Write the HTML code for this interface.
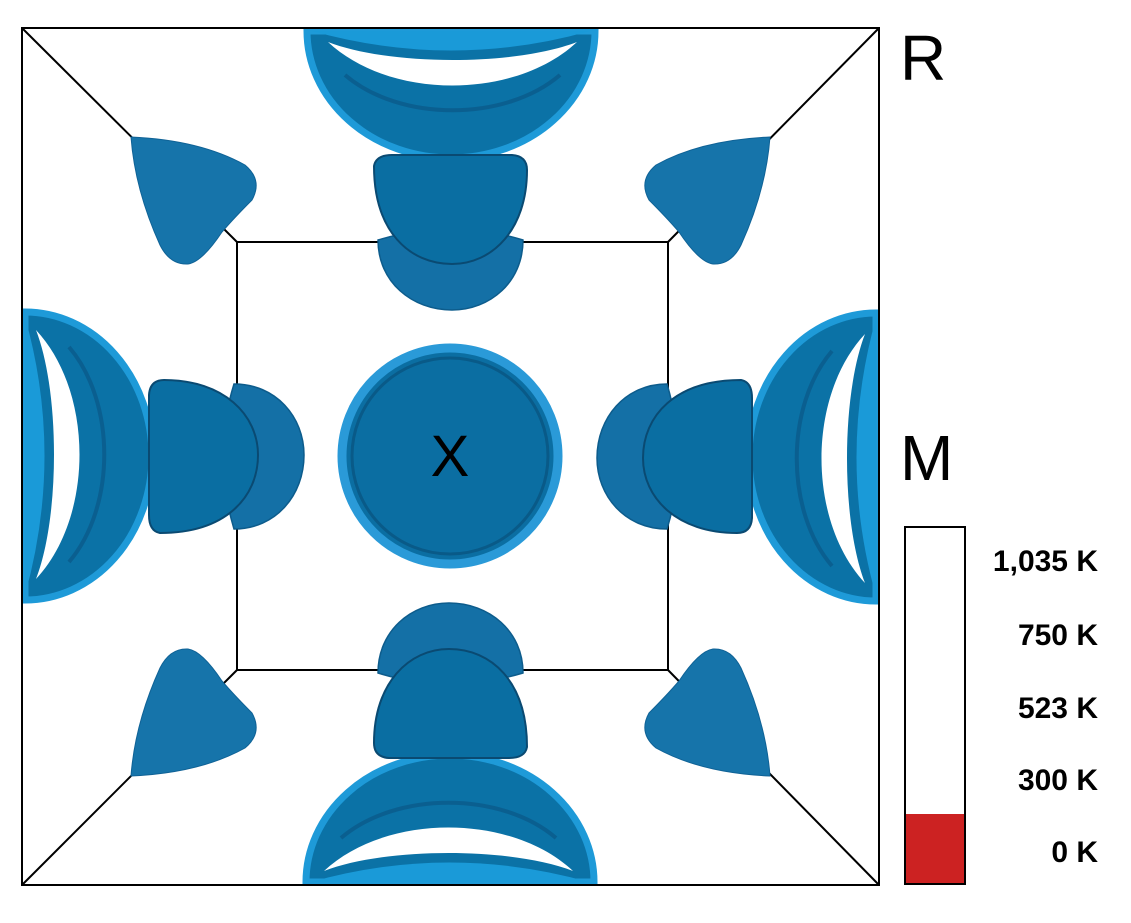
<!DOCTYPE html>
<html><head><style>
body{margin:0;background:#fff;width:1131px;height:918px;overflow:hidden;font-family:"Liberation Sans",sans-serif}
</style></head><body>
<svg width="1131" height="918" viewBox="0 0 1131 918" xmlns="http://www.w3.org/2000/svg">
<defs>
<g id="side">
  <path d="M307,31 A144,127 0 0 0 595,31 Z" fill="#0b72a6" stroke="#1e9ad8" stroke-width="7"/>
  <path d="M312,31 L590,31 Q452,70 312,31 Z" fill="#1a9ad8"/>
  <path d="M328,42 C390,100 515,100 577,42 C515,66 390,66 328,42 Z" fill="#fff"/>
  <path d="M345,75 C400,122 505,122 560,75" fill="none" stroke="#0a5f90" stroke-width="4"/>
  <path d="M378,240 Q452,218 523,240 C523,282 490,310 452,310 C412,310 378,282 378,240 Z" fill="#1470a6" stroke="#0d5c8c" stroke-width="1.5"/>
  <path d="M374,166 Q376,155 392,155 L512,155 Q527,156 527,170 C527,230 492,264 452,264 C410,264 374,232 374,166 Z" fill="#0a6ea2" stroke="#0a4a72" stroke-width="2"/>
</g>
<path id="corner" d="M131,137 Q200,140 245,165 Q263,180 252,200 Q234,218 222,232 Q202,262 188,264 Q170,265 160,245 Q135,190 131,137 Z" fill="#1674aa" stroke="#0f6296" stroke-width="1"/>
</defs>
<rect x="22" y="28" width="857" height="857" fill="none" stroke="#000" stroke-width="2"/>
<rect x="237" y="242" width="431" height="428" fill="none" stroke="#000" stroke-width="2"/>
<line x1="22" y1="28" x2="237" y2="242" stroke="#000" stroke-width="2"/>
<line x1="879" y1="28" x2="668" y2="242" stroke="#000" stroke-width="2"/>
<line x1="22" y1="885" x2="237" y2="670" stroke="#000" stroke-width="2"/>
<line x1="879" y1="885" x2="668" y2="670" stroke="#000" stroke-width="2"/>
<use href="#side"/>
<use href="#side" transform="rotate(90 450.5 456.5)"/>
<use href="#side" transform="rotate(180 450.5 456.5)"/>
<use href="#side" transform="rotate(270 450.5 456.5)"/>
<use href="#corner"/>
<use href="#corner" transform="translate(901 0) scale(-1 1)"/>
<use href="#corner" transform="translate(0 913) scale(1 -1)"/>
<use href="#corner" transform="translate(901 913) scale(-1 -1)"/>
<rect x="22" y="28" width="857" height="857" fill="none" stroke="#000" stroke-width="2"/>
<circle cx="450" cy="456" r="108" fill="#0b6ea2" stroke="#2a9ad8" stroke-width="9"/>
<circle cx="450" cy="456" r="98" fill="none" stroke="#095a88" stroke-width="3"/>
<text x="450" y="476" font-size="58" text-anchor="middle" font-family="Liberation Sans, sans-serif">X</text>
<text x="900" y="80" font-size="64" font-family="Liberation Sans, sans-serif">R</text>
<text x="900" y="480" font-size="64" font-family="Liberation Sans, sans-serif">M</text>
<rect x="905" y="527" width="60" height="357" fill="#fff" stroke="#000" stroke-width="2"/>
<rect x="906" y="814" width="58" height="69" fill="#cc2222"/>
<g font-size="30" font-weight="bold" text-anchor="end" font-family="Liberation Sans, sans-serif">
<text x="1098" y="571">1,035 K</text>
<text x="1098" y="645">750 K</text>
<text x="1098" y="718">523 K</text>
<text x="1098" y="790">300 K</text>
<text x="1098" y="862">0 K</text>
</g>
</svg>
</body></html>
